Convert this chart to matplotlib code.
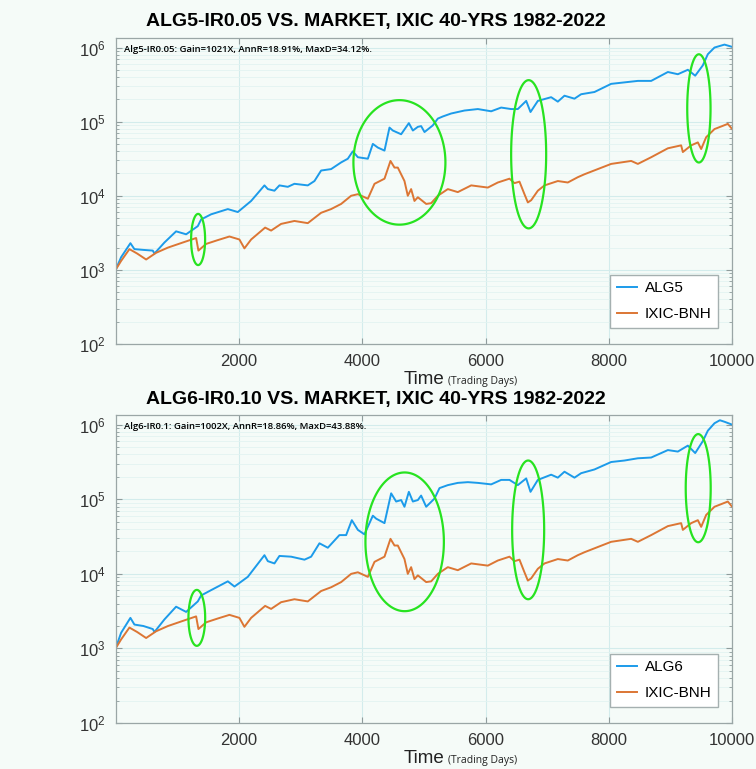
import numpy as np
import matplotlib
matplotlib.use("Agg")
import matplotlib.pyplot as plt
from matplotlib.patches import Polygon
from matplotlib.ticker import LogLocator, FixedLocator

# ---- data (trading day, portfolio value) ----
ixic_days = [0, 89, 224, 350, 495, 657, 850, 1090, 1306, 1343, 1468, 1650, 1846, 2008,
             2089, 2198, 2425, 2522, 2684, 2900, 3117, 3333, 3495, 3658, 3820, 3929,
             4091, 4199, 4361, 4458, 4523, 4577, 4685, 4739, 4793, 4847, 4902, 5037,
             5118, 5226, 5388, 5550, 5767, 6037, 6199, 6388, 6469, 6550, 6631, 6686,
             6740, 6848, 6956, 7172, 7334, 7496, 7604, 7820, 8037, 8362, 8470, 8686,
             8957, 9172, 9200, 9335, 9443, 9497, 9578, 9713, 9929, 10000]
ixic_vals = [1000, 1320, 1905, 1660, 1380, 1700, 2000, 2340, 2690, 1820, 2240, 2510, 2820, 2570,
             1950, 2570, 3720, 3390, 4170, 4570, 4270, 5890, 6610, 7760, 10000, 10500,
             9120, 14500, 17000, 29500, 24000, 24000, 15800, 10000, 12300, 8510, 9550, 7760,
             7940, 10000, 12300, 11200, 13800, 12900, 15100, 17000, 14800, 15500, 10500, 8130,
             8710, 11700, 13800, 15800, 15100, 17800, 19500, 22900, 26900, 29500, 26900, 33100,
             43700, 47900, 38900, 47900, 52500, 42700, 61700, 79400, 93300, 79400]

alg5_days = [0, 89, 240, 305, 450, 603, 630, 792, 981, 1144, 1333, 1387, 1549, 1820, 1982,
             2198, 2414, 2469, 2576, 2657, 2793, 2900, 3117, 3225, 3333, 3495, 3658, 3766,
             3847, 3929, 4091, 4172, 4253, 4361, 4442, 4496, 4631, 4756, 4821, 4902, 4955,
             5010, 5145, 5226, 5307, 5442, 5658, 5875, 6091, 6253, 6415, 6523, 6659, 6729,
             6848, 7064, 7172, 7280, 7442, 7550, 7766, 8037, 8253, 8470, 8686, 8957, 9119,
             9281, 9400, 9524, 9605, 9713, 9875, 10000]
alg5_vals = [1000, 1480, 2290, 1905, 1860, 1820, 1660, 2340, 3310, 3020, 3890, 4790, 5620, 6610, 6030,
             8510, 13800, 12300, 11700, 13800, 13200, 14500, 13800, 15800, 21900, 22900, 28200, 31600,
             39800, 33100, 31600, 50100, 44700, 40700, 83200, 75900, 67600, 95500, 75900, 85100, 87100,
             72400, 89100, 110000, 117500, 128800, 141300, 147900, 138000, 154900, 147900, 147900, 190500, 134900,
             190500, 213800, 186200, 223900, 204200, 234400, 251200, 323600, 338800, 354800, 354800, 467700, 436500,
             501200, 416900, 575400, 812800, 1000000, 1096000, 1021000]

alg6_days = [0, 89, 240, 305, 450, 603, 630, 792, 981, 1144, 1333, 1387, 1522, 1820, 1928,
             2144, 2414, 2469, 2576, 2657, 2847, 3063, 3171, 3306, 3442, 3630, 3739, 3831,
             3929, 4036, 4172, 4226, 4361, 4469, 4550, 4631, 4685, 4756, 4821, 4902, 4955,
             5037, 5172, 5253, 5388, 5550, 5713, 5875, 6091, 6253, 6388, 6523, 6659, 6729,
             6848, 7064, 7172, 7280, 7442, 7550, 7766, 8037, 8253, 8470, 8686, 8957, 9119,
             9281, 9400, 9524, 9605, 9713, 9800, 9875, 10000]
alg6_vals = [1000, 1620, 2570, 2090, 2000, 1820, 1660, 2450, 3630, 3090, 4270, 5130, 5890, 7940, 6760,
             9120, 17800, 14800, 13800, 17400, 17000, 15500, 17000, 25700, 22400, 33100, 33100, 52500,
             38900, 33900, 60300, 55000, 47900, 120200, 93300, 97700, 79400, 125900, 93300, 97700, 112200,
             79400, 102300, 141300, 154900, 166000, 169800, 166000, 158500, 182000, 182000, 154900, 190500, 125900,
             182000, 213800, 195000, 234400, 195000, 223900, 251200, 316200, 331100, 354800, 363100, 457100, 436500,
             524800, 416900, 602600, 831800, 1047000, 1148000, 1096000, 1002000]

# highlighted regions: centre day, centre value, width (days), height (decades)
rings5 = [(1338, 2570, 227, 0.69), (4603, 28200, 1492, 1.68),
          (6699, 36300, 568, 2.0), (9460, 151000, 378, 1.46)]
rings6 = [(1317, 2570, 271, 0.75), (4688, 26900, 1272, 1.86),
          (6691, 38900, 519, 1.86), (9449, 141000, 405, 1.45)]

panels = [
    ("ALG5-IR0.05 VS. MARKET, IXIC 40-YRS 1982-2022",
     "Alg5-IR0.05: Gain=1021X, AnnR=18.91%, MaxD=34.12%.",
     "ALG5", alg5_days, alg5_vals, rings5, [0.153, 0.5527, 0.8155, 0.398]),
    ("ALG6-IR0.10 VS. MARKET, IXIC 40-YRS 1982-2022",
     "Alg6-IR0.1: Gain=1002X, AnnR=18.86%, MaxD=43.88%.",
     "ALG6", alg6_days, alg6_vals, rings6, [0.153, 0.0598, 0.8155, 0.4005]),
]

bg = "#f5fbf8"
blue = "#1c9bea"
orange = "#dc7634"
green = "#27e320"
sans = "Liberation Sans"

fig = plt.figure(figsize=(7.56, 7.69), dpi=100, facecolor=bg)

for title, note, name, days, vals, rings, pos in panels:
    ax = fig.add_axes(pos, facecolor=bg)
    ax.plot(days, vals, color=blue, lw=1.4, label=name)
    ax.plot(ixic_days, ixic_vals, color=orange, lw=1.4, label="IXIC-BNH")

    t = np.linspace(0, 2 * np.pi, 240, endpoint=False)
    for cx, cy, w, h in rings:
        ex = cx + w / 2 * np.cos(t)
        ey = 10 ** (np.log10(cy) + h / 2 * np.sin(t))
        ax.add_patch(Polygon(np.column_stack([ex, ey]), closed=True, fill=False,
                             edgecolor=green, lw=1.6, zorder=3))

    ax.set_yscale("log")
    ax.set_xlim(1, 10000)
    ax.set_ylim(100, 10 ** 6.13)
    ax.xaxis.set_major_locator(FixedLocator([2000, 4000, 6000, 8000, 10000]))
    ax.yaxis.set_major_locator(LogLocator(base=10, numticks=10))
    ax.yaxis.set_minor_locator(LogLocator(base=10, subs=np.arange(2, 10), numticks=10))
    ax.grid(True, which="major", color="#d3ecec", lw=0.8)
    ax.grid(True, which="minor", axis="y", color="#e3f3f1", lw=0.6)
    ax.tick_params(which="both", direction="in", top=True, right=True, color="#8f9c9c")
    ax.tick_params(which="major", labelsize=12, labelcolor="#333333", length=4, pad=7)
    ax.tick_params(which="minor", length=2)
    for lab in ax.get_xticklabels() + ax.get_yticklabels():
        lab.set_fontfamily(sans)
    for sp in ax.spines.values():
        sp.set_color("#9aa6a6")
        sp.set_linewidth(0.9)

    ax.text(0.014, 0.962, note, transform=ax.transAxes, fontsize=6.8,
            fontfamily="Open Sans", fontweight="semibold", va="center", ha="left")

    leg = ax.legend(loc="lower right", prop={"family": sans, "size": 11}, handlelength=1.3,
                    borderpad=0.45, labelspacing=0.75, handletextpad=0.5, fancybox=False,
                    bbox_to_anchor=(0.99, 0.028))
    leg.get_frame().set_edgecolor("#a5b0b0")
    leg.get_frame().set_facecolor("white")
    leg.get_frame().set_alpha(1)

    top_px = (1 - pos[1] - pos[3]) * 769
    bot_px = (1 - pos[1]) * 769
    fig.text(0.497, 1 - (top_px - 16) / 769, title, ha="center", va="center",
             fontsize=14, fontweight="bold", fontfamily=sans)
    fig.text(444 / 756, 1 - (bot_px + 40) / 769, "Time", ha="right", va="baseline",
             fontsize=13.5, color="#222222", fontfamily=sans)
    fig.text(448 / 756, 1 - (bot_px + 40) / 769, "(Trading Days)", ha="left", va="baseline",
             fontsize=7.5, color="#222222", fontfamily="Open Sans")

fig.savefig("out.png", dpi=100, facecolor=bg)
